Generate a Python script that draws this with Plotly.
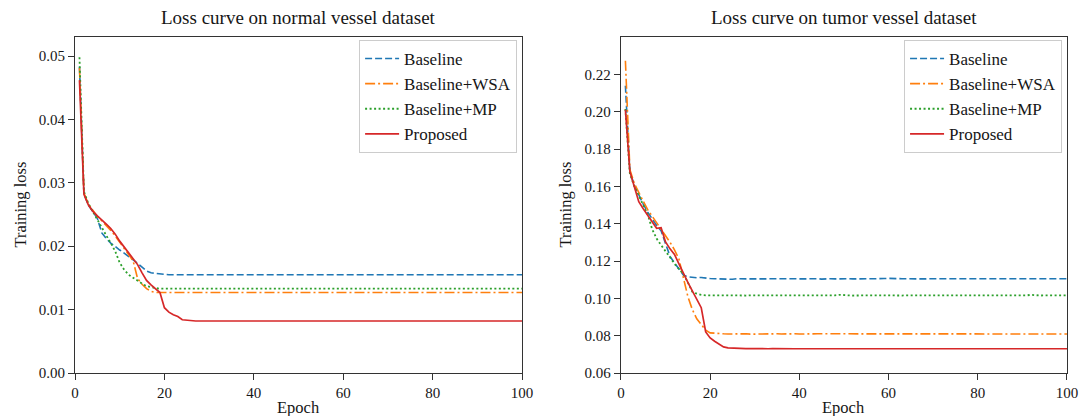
import plotly.graph_objects as go

# ---------------- data ----------------
epochs = list(range(1, 101))

# Normal vessel dataset
normal_baseline = [
    0.0483, 0.0282, 0.0265, 0.0255, 0.0244, 0.0221, 0.0212, 0.0205, 0.0199, 0.0194,
    0.0189, 0.0184, 0.0178, 0.0173, 0.0167, 0.0161, 0.0158, 0.0157, 0.0156, 0.0156,
    0.0155, 0.0155, 0.0155, 0.0155, 0.0155, 0.0156, 0.0155, 0.0155, 0.0155, 0.0156,
    0.0155, 0.0155, 0.0156, 0.0156, 0.0155, 0.0155, 0.0156, 0.0155, 0.0155, 0.0156,
    0.0156, 0.0155, 0.0155, 0.0156, 0.0156, 0.0155, 0.0155, 0.0155, 0.0156, 0.0155,
    0.0155, 0.0156, 0.0156, 0.0155, 0.0155, 0.0156, 0.0155, 0.0155, 0.0156, 0.0156,
    0.0155, 0.0156, 0.0156, 0.0155, 0.0155, 0.0156, 0.0155, 0.0156, 0.0156, 0.0155,
    0.0155, 0.0156, 0.0156, 0.0155, 0.0156, 0.0156, 0.0155, 0.0155, 0.0156, 0.0155,
    0.0156, 0.0156, 0.0155, 0.0155, 0.0156, 0.0156, 0.0155, 0.0156, 0.0156, 0.0155,
    0.0156, 0.0156, 0.0155, 0.0156, 0.0156, 0.0156, 0.0155, 0.0156, 0.0156, 0.0155,
]
normal_wsa = [
    0.0481, 0.0284, 0.0266, 0.0256, 0.0247, 0.0240, 0.0233, 0.0225, 0.0216, 0.0206,
    0.0197, 0.0188, 0.0177, 0.0149, 0.0140, 0.0133, 0.0129, 0.0127, 0.0127, 0.0127,
    0.0127, 0.0127, 0.0126, 0.0127, 0.0127, 0.0127, 0.0127, 0.0126, 0.0127, 0.0127,
    0.0127, 0.0127, 0.0127, 0.0126, 0.0127, 0.0127, 0.0127, 0.0127, 0.0127, 0.0127,
    0.0126, 0.0127, 0.0127, 0.0127, 0.0127, 0.0127, 0.0126, 0.0127, 0.0127, 0.0127,
    0.0127, 0.0127, 0.0127, 0.0127, 0.0126, 0.0127, 0.0127, 0.0127, 0.0127, 0.0127,
    0.0127, 0.0126, 0.0127, 0.0127, 0.0127, 0.0127, 0.0127, 0.0127, 0.0126, 0.0127,
    0.0127, 0.0127, 0.0127, 0.0127, 0.0127, 0.0126, 0.0127, 0.0127, 0.0127, 0.0127,
    0.0127, 0.0127, 0.0127, 0.0126, 0.0127, 0.0127, 0.0127, 0.0127, 0.0127, 0.0127,
    0.0126, 0.0127, 0.0127, 0.0127, 0.0127, 0.0127, 0.0127, 0.0126, 0.0127, 0.0127,
]
normal_mp = [
    0.0498, 0.0286, 0.0267, 0.0254, 0.0243, 0.0229, 0.0217, 0.0205, 0.0192, 0.0174,
    0.0163, 0.0155, 0.0150, 0.0146, 0.0141, 0.0137, 0.0135, 0.0134, 0.0133, 0.0133,
    0.0133, 0.0133, 0.0133, 0.0133, 0.0133, 0.0133, 0.0133, 0.0133, 0.0133, 0.0133,
    0.0133, 0.0133, 0.0133, 0.0133, 0.0133, 0.0133, 0.0133, 0.0133, 0.0133, 0.0133,
    0.0133, 0.0133, 0.0133, 0.0133, 0.0133, 0.0133, 0.0133, 0.0133, 0.0133, 0.0133,
    0.0133, 0.0133, 0.0133, 0.0133, 0.0133, 0.0133, 0.0133, 0.0133, 0.0133, 0.0133,
    0.0133, 0.0133, 0.0133, 0.0133, 0.0133, 0.0133, 0.0133, 0.0133, 0.0133, 0.0133,
    0.0133, 0.0133, 0.0133, 0.0133, 0.0133, 0.0133, 0.0133, 0.0133, 0.0133, 0.0133,
    0.0133, 0.0133, 0.0133, 0.0133, 0.0133, 0.0133, 0.0133, 0.0133, 0.0133, 0.0133,
    0.0133, 0.0133, 0.0133, 0.0133, 0.0133, 0.0133, 0.0133, 0.0133, 0.0133, 0.0133,
]
normal_proposed = [
    0.0462, 0.0282, 0.0265, 0.0255, 0.0248, 0.0242, 0.0235, 0.0228, 0.0219, 0.0208,
    0.0199, 0.0190, 0.0180, 0.0171, 0.0158, 0.0146, 0.0139, 0.0133, 0.0127, 0.0103,
    0.0096, 0.0092, 0.0089, 0.0084, 0.0083, 0.0082, 0.0082, 0.0082, 0.0082, 0.0082,
    0.0082, 0.0082, 0.0082, 0.0082, 0.0082, 0.0082, 0.0082, 0.0082, 0.0082, 0.0082,
    0.0082, 0.0082, 0.0082, 0.0082, 0.0082, 0.0082, 0.0082, 0.0082, 0.0082, 0.0082,
    0.0082, 0.0082, 0.0082, 0.0082, 0.0082, 0.0082, 0.0082, 0.0082, 0.0082, 0.0082,
    0.0082, 0.0082, 0.0082, 0.0082, 0.0082, 0.0082, 0.0082, 0.0082, 0.0082, 0.0082,
    0.0082, 0.0082, 0.0082, 0.0082, 0.0082, 0.0082, 0.0082, 0.0082, 0.0082, 0.0082,
    0.0082, 0.0082, 0.0082, 0.0082, 0.0082, 0.0082, 0.0082, 0.0082, 0.0082, 0.0082,
    0.0082, 0.0082, 0.0082, 0.0082, 0.0082, 0.0082, 0.0082, 0.0082, 0.0082, 0.0082,
]

# Tumor vessel dataset
tumor_baseline = [
    0.2139, 0.1680, 0.1605, 0.1550, 0.1505, 0.1462, 0.1423, 0.1390, 0.1362, 0.1290,
    0.1225, 0.1190, 0.1160, 0.1125, 0.1115, 0.1112, 0.1110, 0.1112, 0.1108, 0.1106,
    0.1105, 0.1104, 0.1105, 0.1104, 0.1102, 0.1105, 0.1104, 0.1105, 0.1105, 0.1104,
    0.1104, 0.1105, 0.1105, 0.1104, 0.1105, 0.1105, 0.1106, 0.1105, 0.1105, 0.1104,
    0.1105, 0.1105, 0.1104, 0.1105, 0.1103, 0.1105, 0.1105, 0.1104, 0.1105, 0.1105,
    0.1105, 0.1104, 0.1105, 0.1103, 0.1104, 0.1105, 0.1105, 0.1104, 0.1106, 0.1107,
    0.1105, 0.1104, 0.1105, 0.1105, 0.1104, 0.1105, 0.1105, 0.1104, 0.1105, 0.1105,
    0.1104, 0.1105, 0.1105, 0.1106, 0.1105, 0.1104, 0.1105, 0.1105, 0.1104, 0.1106,
    0.1105, 0.1104, 0.1103, 0.1104, 0.1105, 0.1104, 0.1103, 0.1104, 0.1105, 0.1104,
    0.1105, 0.1105, 0.1107, 0.1104, 0.1103, 0.1105, 0.1104, 0.1105, 0.1106, 0.1105,
]
tumor_wsa = [
    0.2273, 0.1690, 0.1615, 0.1565, 0.1520, 0.1475, 0.1440, 0.1410, 0.1375, 0.1340,
    0.1300, 0.1260, 0.1210, 0.1110, 0.1010, 0.0940, 0.0890, 0.0860, 0.0830, 0.0815,
    0.0812, 0.0810, 0.0810, 0.0809, 0.0810, 0.0810, 0.0809, 0.0810, 0.0808, 0.0809,
    0.0810, 0.0810, 0.0809, 0.0810, 0.0810, 0.0809, 0.0810, 0.0810, 0.0810, 0.0809,
    0.0810, 0.0810, 0.0809, 0.0810, 0.0810, 0.0810, 0.0809, 0.0808, 0.0809, 0.0808,
    0.0810, 0.0810, 0.0810, 0.0809, 0.0810, 0.0810, 0.0809, 0.0810, 0.0811, 0.0810,
    0.0809, 0.0810, 0.0810, 0.0809, 0.0810, 0.0810, 0.0809, 0.0810, 0.0810, 0.0809,
    0.0810, 0.0810, 0.0809, 0.0809, 0.0810, 0.0810, 0.0809, 0.0808, 0.0807, 0.0809,
    0.0810, 0.0810, 0.0809, 0.0810, 0.0810, 0.0809, 0.0810, 0.0809, 0.0810, 0.0810,
    0.0809, 0.0810, 0.0810, 0.0809, 0.0810, 0.0809, 0.0810, 0.0810, 0.0809, 0.0809,
]
tumor_mp = [
    0.2014, 0.1668, 0.1600, 0.1548, 0.1500, 0.1450, 0.1370, 0.1320, 0.1285, 0.1255,
    0.1220, 0.1185, 0.1155, 0.1130, 0.1085, 0.1035, 0.1025, 0.1018, 0.1016, 0.1015,
    0.1016, 0.1015, 0.1016, 0.1016, 0.1015, 0.1016, 0.1016, 0.1015, 0.1016, 0.1016,
    0.1015, 0.1016, 0.1016, 0.1016, 0.1015, 0.1016, 0.1017, 0.1016, 0.1016, 0.1015,
    0.1016, 0.1016, 0.1015, 0.1016, 0.1016, 0.1014, 0.1016, 0.1016, 0.1019, 0.1016,
    0.1016, 0.1015, 0.1016, 0.1016, 0.1015, 0.1016, 0.1016, 0.1016, 0.1015, 0.1016,
    0.1016, 0.1016, 0.1015, 0.1016, 0.1016, 0.1017, 0.1015, 0.1016, 0.1014, 0.1016,
    0.1016, 0.1016, 0.1015, 0.1016, 0.1016, 0.1015, 0.1016, 0.1016, 0.1016, 0.1015,
    0.1016, 0.1016, 0.1015, 0.1016, 0.1016, 0.1015, 0.1016, 0.1016, 0.1015, 0.1016,
    0.1016, 0.1019, 0.1016, 0.1015, 0.1016, 0.1016, 0.1015, 0.1016, 0.1016, 0.1016,
]
tumor_proposed = [
    0.2010, 0.1680, 0.1598, 0.1518, 0.1480, 0.1445, 0.1415, 0.1375, 0.1378, 0.1302,
    0.1265, 0.1235, 0.1185, 0.1130, 0.1085, 0.1040, 0.0995, 0.0950, 0.0820, 0.0788,
    0.0770, 0.0755, 0.0740, 0.0735, 0.0733, 0.0732, 0.0731, 0.0731, 0.0731, 0.0730,
    0.0730, 0.0730, 0.0730, 0.0731, 0.0730, 0.0730, 0.0730, 0.0731, 0.0730, 0.0730,
    0.0730, 0.0730, 0.0731, 0.0731, 0.0731, 0.0730, 0.0730, 0.0730, 0.0730, 0.0729,
    0.0730, 0.0730, 0.0730, 0.0731, 0.0730, 0.0730, 0.0730, 0.0730, 0.0731, 0.0730,
    0.0730, 0.0730, 0.0730, 0.0730, 0.0731, 0.0730, 0.0730, 0.0730, 0.0731, 0.0730,
    0.0730, 0.0730, 0.0730, 0.0730, 0.0729, 0.0730, 0.0730, 0.0731, 0.0730, 0.0730,
    0.0730, 0.0730, 0.0730, 0.0731, 0.0730, 0.0730, 0.0730, 0.0730, 0.0730, 0.0730,
    0.0730, 0.0730, 0.0731, 0.0730, 0.0730, 0.0730, 0.0731, 0.0730, 0.0730, 0.0730,
]

series_names = ["Baseline", "Baseline+WSA", "Baseline+MP", "Proposed"]
panel_titles = ["Loss curve on normal vessel dataset", "Loss curve on tumor vessel dataset"]
x_ticks = [0, 20, 40, 60, 80, 100]
left_y_ticks = [0.00, 0.01, 0.02, 0.03, 0.04, 0.05]
right_y_ticks = [0.06, 0.08, 0.10, 0.12, 0.14, 0.16, 0.18, 0.20, 0.22]

# ---------------- styling ----------------
FONT = "Liberation Serif"
TEXT = "#161616"
colors = ["#1f77b4", "#ff7f0e", "#2ca02c", "#d62728"]
dashes = ["7px,3px", "10px,3px,2px,3px", "2px,2.5px", "solid"]
widths = [1.6, 1.6, 1.8, 1.7]

fig = go.Figure()

panels = [
    ([normal_baseline, normal_wsa, normal_mp, normal_proposed], "x", "y", "legend"),
    ([tumor_baseline, tumor_wsa, tumor_mp, tumor_proposed], "x2", "y2", "legend2"),
]
for values, xa, ya, leg in panels:
    for i, (name, ys) in enumerate(zip(series_names, values)):
        fig.add_trace(go.Scatter(
            x=epochs, y=ys, name=name, mode="lines",
            xaxis=xa, yaxis=ya, legend=leg,
            legendgroup=f"{leg}-{i}",
            line=dict(color=colors[i], dash=dashes[i], width=widths[i]),
        ))

axis_common = dict(
    showline=True, linecolor="#333333", linewidth=1.2, mirror=True,
    ticks="outside", ticklen=6, tickwidth=1.2, tickcolor="#333333",
    showgrid=False, zeroline=False,
    tickfont=dict(family=FONT, size=15, color=TEXT),
)

W, H = 1088, 416
ML, MR, MT, MB = 75, 10, 37, 43
PW = W - ML - MR
PH = H - MT - MB


def px_x(p):
    return (p - ML) / PW


def px_y(p):
    return 1 - (p - MT) / PH


legend_common = dict(
    font=dict(family=FONT, size=17, color=TEXT),
    bgcolor="rgba(255,255,255,0.85)", bordercolor="#cccccc", borderwidth=1,
    xanchor="right", yanchor="top", tracegroupgap=0,
    itemwidth=34,
)

fig.update_layout(
    width=W, height=H,
    margin=dict(l=ML, r=MR, t=MT, b=MB),
    paper_bgcolor="white", plot_bgcolor="white",
    font=dict(family=FONT, color=TEXT),
    xaxis=dict(domain=[0, px_x(527)], range=[0, 100], tickvals=x_ticks, anchor="y", **axis_common),
    yaxis=dict(domain=[0, 1], range=[0, 0.053], tickvals=left_y_ticks, tickformat=".2f", anchor="x", **axis_common),
    xaxis2=dict(domain=[px_x(627), 1], range=[0, 100], tickvals=x_ticks, anchor="y2", **axis_common),
    yaxis2=dict(domain=[0, 1], range=[0.06, 0.24], tickvals=right_y_ticks, tickformat=".2f", anchor="x2", **axis_common),
    legend=dict(x=px_x(522), y=px_y(40), **legend_common),
    legend2=dict(x=px_x(1073), y=px_y(40), **legend_common),
    showlegend=True,
)

annotations = []
for title, cx in zip(panel_titles, [(75 + 527) / 2, (627 + 1078) / 2]):
    annotations.append(dict(
        text=title, xref="paper", yref="paper", x=px_x(cx), y=px_y(18),
        xanchor="center", yanchor="middle", showarrow=False,
        font=dict(family=FONT, size=19, color=TEXT),
    ))
for cx in [(75 + 527) / 2, (627 + 1078) / 2]:
    annotations.append(dict(
        text="Epoch", xref="paper", yref="paper", x=px_x(cx), y=px_y(407),
        xanchor="center", yanchor="middle", showarrow=False,
        font=dict(family=FONT, size=16.5, color=TEXT),
    ))
for lx in [19, 570]:
    annotations.append(dict(
        text="Training loss", xref="paper", yref="paper", x=px_x(lx), y=px_y(205),
        xanchor="center", yanchor="middle", showarrow=False, textangle=-90,
        font=dict(family=FONT, size=16.5, color=TEXT),
    ))
fig.update_layout(annotations=annotations)

fig.write_html("out.html")
